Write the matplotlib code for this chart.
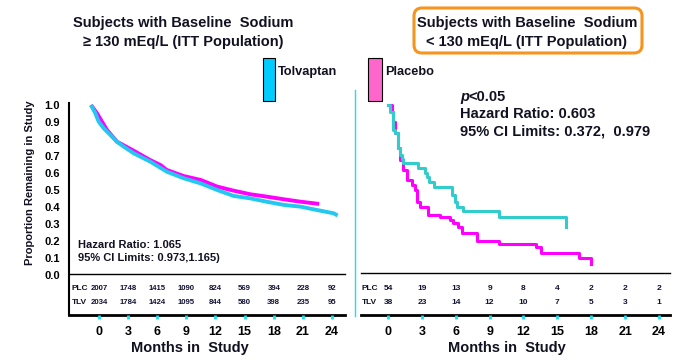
import matplotlib
matplotlib.use("Agg")
import matplotlib.pyplot as plt
import numpy as np
from matplotlib.patches import Rectangle, FancyBboxPatch

plt.rcParams['font.family'] = ['Liberation Sans', 'DejaVu Sans']

# ---------------- data ----------------
months = [0, 3, 6, 9, 12, 15, 18, 21, 24]

# Left panel (baseline sodium >= 130)
left_tlv_t = [0, 0.45, 0.79, 1.31, 1.99, 2.68, 3.37, 4.4, 6.1, 7.8, 9.55, 11.3, 13.0, 14.7,
              16.4, 18.1, 19.9, 21.6, 23.3, 25.0, 25.4]
left_tlv_s = [1.0, 0.951, 0.902, 0.863, 0.824, 0.784, 0.755, 0.716, 0.667, 0.608, 0.569, 0.539,
              0.50, 0.465, 0.451, 0.431, 0.412, 0.402, 0.382, 0.363, 0.35]
left_plc_t = [0, 0.62, 1.13, 1.65, 2.68, 4.4, 6.1, 7.15, 7.8, 9.55, 11.3, 13.0, 14.7, 16.4,
              18.1, 19.9, 21.6, 23.5]
left_plc_s = [1.0, 0.951, 0.902, 0.853, 0.784, 0.731, 0.676, 0.647, 0.618, 0.582, 0.559, 0.520,
              0.496, 0.475, 0.461, 0.445, 0.431, 0.418]
left_plc_risk = [2007, 1748, 1415, 1090, 824, 569, 394, 228, 92]
left_tlv_risk = [2034, 1784, 1424, 1095, 844, 580, 398, 235, 95]

# Right panel (baseline sodium < 130)
right_tlv_t = [0, 0.15, 0.47, 0.62, 0.91, 1.06, 1.2, 1.36, 2.68, 3.28, 3.45, 3.66, 4.1, 5.64,
               5.9, 6.08, 6.61, 9.86, 15.77]
right_tlv_s = [1.0, 0.96, 0.853, 0.833, 0.745, 0.706, 0.68, 0.657, 0.627, 0.602, 0.578, 0.549,
               0.520, 0.47, 0.431, 0.402, 0.378, 0.339, 0.284]
right_plc_t = [0, 0.32, 0.47, 0.62, 0.91, 1.06, 1.36, 1.65, 2.1, 2.39, 2.6, 2.83, 3.57, 4.6,
               5.5, 5.8, 6.23, 6.52, 7.85, 9.86, 13.1, 13.55, 16.9, 17.95]
right_plc_s = [1.0, 0.96, 0.902, 0.833, 0.745, 0.676, 0.618, 0.559, 0.529, 0.5, 0.431, 0.402,
               0.353, 0.343, 0.324, 0.304, 0.284, 0.249, 0.202, 0.182, 0.163, 0.131, 0.102, 0.065]
right_plc_risk = [54, 19, 13, 9, 8, 4, 2, 2, 2]
right_tlv_risk = [38, 23, 14, 12, 10, 7, 5, 3, 1]

yticks = [round(v, 1) for v in np.arange(0, 1.01, 0.1)]

# ---------------- layout ----------------
W, H = 678, 362
fig = plt.figure(figsize=(W / 100, H / 100), dpi=100)


def rect(x0, y0, x1, y1):
    return [x0 / W, 1 - y1 / H, (x1 - x0) / W, (y1 - y0) / H]


ov = fig.add_axes([0, 0, 1, 1], zorder=0)
ov.set_xlim(0, W)
ov.set_ylim(H, 0)
ov.axis('off')

MAG = '#FF00FF'
CYL = '#22C8F0'
CYR = '#33CCCC'

# ---- left curve axes ----
ppm_l = 9.708
axL = fig.add_axes(rect(69, 90, 345, 275), zorder=2)
axL.patch.set_alpha(0)
axL.set_xlim(-22 / ppm_l, (345 - 91) / ppm_l)
axL.set_ylim(0, 1 + 15 / 170)
axL.plot(left_plc_t, left_plc_s, color=MAG, lw=2.8, solid_capstyle='butt')
axL.plot(left_tlv_t, left_tlv_s, color=CYL, lw=2.8, solid_capstyle='butt')
axL.set_xticks([])
axL.set_yticks(yticks)
axL.set_yticklabels([f"{v:.1f}" for v in yticks], fontsize=8, fontweight='bold')
axL.tick_params(axis='y', length=0, pad=6.5)
for s in axL.spines.values():
    s.set_visible(False)

# ---- left table axes ----
axLT = fig.add_axes(rect(69, 275, 345, 315), zorder=2)
axLT.patch.set_alpha(0)
axLT.set_xlim(-(99 - 69) / ppm_l, (345 - 99) / ppm_l)
axLT.set_ylim(0, 1)
axLT.set_yticks([])
axLT.set_xticks(months)
axLT.set_xticklabels([str(m) for m in months], fontsize=9, fontweight='bold')
axLT.tick_params(axis='x', color='#22DDEE', length=3, width=2, direction='out', pad=5)
for s in axLT.spines.values():
    s.set_visible(False)
tr = axLT.get_xaxis_transform()
for m, p, t in zip(months, left_plc_risk, left_tlv_risk):
    axLT.text(m, 0.65, str(p), transform=tr, ha='center', va='center', fontsize=5.6,
              fontweight='bold', color='#111133')
    axLT.text(m, 0.30, str(t), transform=tr, ha='center', va='center', fontsize=5.6,
              fontweight='bold', color='#111133')

# ---- right curve axes ----
ppm_r = 11.29
axR = fig.add_axes(rect(361, 90, 670, 275), zorder=2)
axR.patch.set_alpha(0)
axR.set_xlim((361 - 388) / ppm_r, (670 - 388) / ppm_r)
axR.set_ylim(0, 1 + 15 / 170)
axR.step(right_plc_t, right_plc_s, where='post', color=MAG, lw=2.2)
axR.step(right_tlv_t, right_tlv_s, where='post', color=CYR, lw=2.2)
axR.set_xticks([])
axR.set_yticks([])
for s in axR.spines.values():
    s.set_visible(False)

# ---- right table axes ----
axRT = fig.add_axes(rect(361, 275, 670, 315), zorder=2)
axRT.patch.set_alpha(0)
axRT.set_xlim((361 - 388) / ppm_r, (670 - 388) / ppm_r)
axRT.set_ylim(0, 1)
axRT.set_yticks([])
axRT.set_xticks(months)
axRT.set_xticklabels([str(m) for m in months], fontsize=9, fontweight='bold')
axRT.tick_params(axis='x', color='#22DDEE', length=3, width=2, direction='out', pad=5)
for s in axRT.spines.values():
    s.set_visible(False)
tr = axRT.get_xaxis_transform()
for m, p, t in zip(months, right_plc_risk, right_tlv_risk):
    axRT.text(m, 0.65, str(p), transform=tr, ha='center', va='center', fontsize=6,
              fontweight='bold', color='#111133')
    axRT.text(m, 0.30, str(t), transform=tr, ha='center', va='center', fontsize=6,
              fontweight='bold', color='#111133')

# ---- frame lines ----
ov.plot([69, 69], [103, 315], color='black', lw=1.5)
ov.plot([69, 345], [274, 274], color='black', lw=1.0)
ov.plot([69, 345], [315, 315], color='black', lw=2.0)
ov.plot([361, 670], [273, 273], color='black', lw=1.0)
ov.plot([361, 670], [315, 315], color='black', lw=2.0)
ov.plot([355, 355], [90, 316], color='#22DDEE', lw=1.0)

# ---- texts ----
TXT = '#111122'
ov.text(30, 183, 'Proportion Remaining in Study', rotation=90, ha='center', va='center',
        fontsize=8, fontweight='bold', color=TXT)
ov.text(183, 23, 'Subjects with Baseline  Sodium', ha='center', va='center',
        fontsize=10.5, fontweight='bold', color=TXT)
ov.text(183, 42, '\u2265 130 mEq/L (ITT Population)', ha='center', va='center',
        fontsize=10.5, fontweight='bold', color=TXT)
ov.text(527, 23, 'Subjects with Baseline  Sodium', ha='center', va='center',
        fontsize=10.5, fontweight='bold', color=TXT)
ov.text(527, 42, '< 130 mEq/L (ITT Population)', ha='center', va='center',
        fontsize=10.5, fontweight='bold', color=TXT)
ov.add_patch(FancyBboxPatch((414, 8), 228, 45, boxstyle='round,pad=0,rounding_size=8',
                            fc='none', ec='#F7941D', lw=2.2))

ov.add_patch(Rectangle((263, 58), 12, 43, fc='#00CCFF', ec='black', lw=0.8))
ov.text(278, 72, 'Tolvaptan', ha='left', va='center', fontsize=9.2, fontweight='bold', color=TXT)
ov.add_patch(Rectangle((368, 58), 14, 43, fc='#FF66CC', ec='black', lw=0.8))
ov.text(385, 72, 'Placebo', ha='left', va='center', fontsize=9.2, fontweight='bold', color=TXT)

ov.text(460, 97, 'p', ha='left', va='center', fontsize=10.5, fontweight='bold',
        fontstyle='italic', color=TXT)
ov.text(468, 97, '<0.05', ha='left', va='center', fontsize=10.5, fontweight='bold', color=TXT)
ov.text(460, 114, 'Hazard Ratio: 0.603', ha='left', va='center', fontsize=10.5,
        fontweight='bold', color=TXT)
ov.text(460, 132, '95% CI Limits: 0.372,  0.979', ha='left', va='center', fontsize=10.5,
        fontweight='bold', color=TXT)

ov.text(78, 245, 'Hazard Ratio: 1.065', ha='left', va='center', fontsize=8,
        fontweight='bold', color=TXT)
ov.text(78, 258, '95% CI Limits: 0.973,1.165)', ha='left', va='center', fontsize=8,
        fontweight='bold', color=TXT)

ov.text(72, 289, 'PLC', ha='left', va='center', fontsize=6, fontweight='bold', color=TXT)
ov.text(72, 303, 'TLV', ha='left', va='center', fontsize=6, fontweight='bold', color=TXT)
ov.text(362, 289, 'PLC', ha='left', va='center', fontsize=6, fontweight='bold', color=TXT)
ov.text(362, 303, 'TLV', ha='left', va='center', fontsize=6, fontweight='bold', color=TXT)

ov.text(190, 348, 'Months in  Study', ha='center', va='center', fontsize=10.5,
        fontweight='bold', color=TXT)
ov.text(507, 348, 'Months in  Study', ha='center', va='center', fontsize=10.5,
        fontweight='bold', color=TXT)

fig.savefig('out.png', dpi=100)
